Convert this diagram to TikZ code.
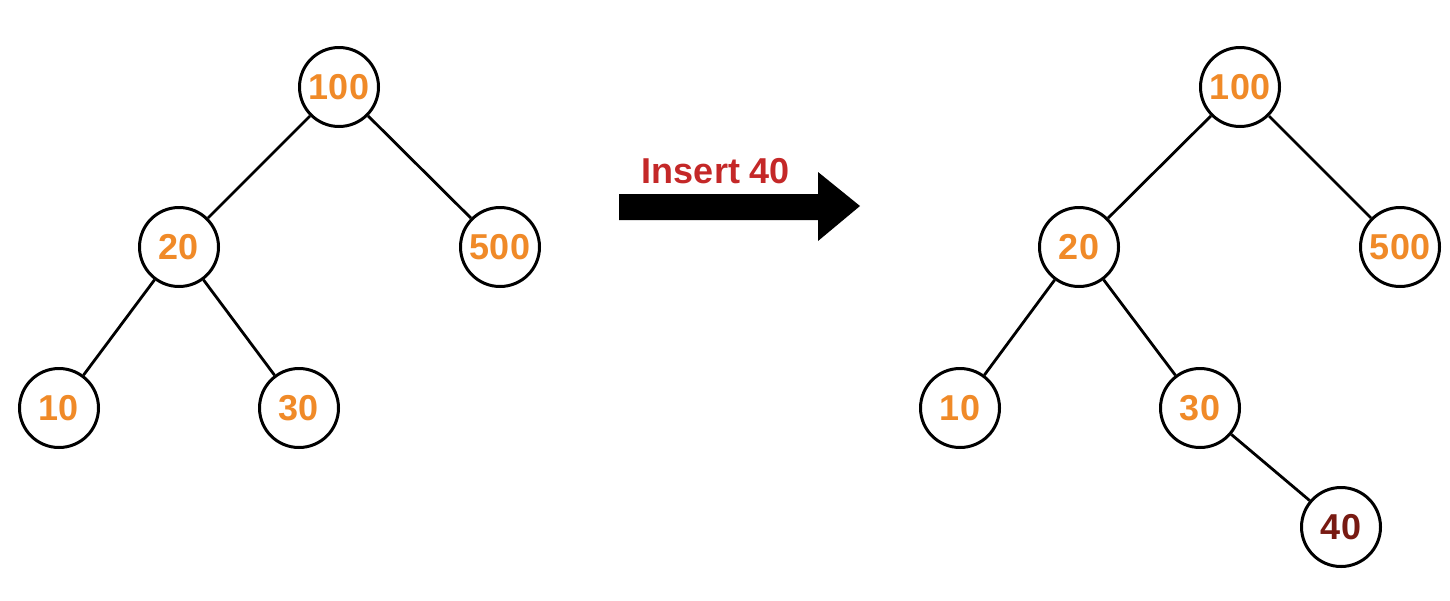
\documentclass[tikz,border=0pt]{standalone}
\usepackage{fontspec}
\setmainfont{Liberation Sans}
\definecolor{nodeorange}{RGB}{240,138,40}
\definecolor{newred}{RGB}{120,26,18}
\definecolor{labelred}{RGB}{196,40,40}
\begin{document}
\begin{tikzpicture}[x=1pt,y=-1pt,
  tnode/.style={circle,draw=black,line width=3pt,fill=white,minimum size=79pt,inner sep=0pt,
    font=\fontsize{36}{40}\selectfont\bfseries,text=nodeorange},
  newnode/.style={tnode,text=newred},
  edge/.style={line width=2.8pt,draw=black}]
\useasboundingbox (0,0) rectangle (1450,600);
% left tree
\node[tnode] (a100) at (339,87) {100};
\node[tnode] (a20) at (179,247) {20};
\node[tnode] (a500) at (500,247) {500};
\node[tnode] (a10) at (59,408) {10};
\node[tnode] (a30) at (299,408) {30};
\draw[edge] (a100) -- (a20);
\draw[edge] (a100) -- (a500);
\draw[edge] (a20) -- (a10);
\draw[edge] (a20) -- (a30);
% right tree
\node[tnode] (b100) at (1240,87) {100};
\node[tnode] (b20) at (1079,247) {20};
\node[tnode] (b500) at (1400,247) {500};
\node[tnode] (b10) at (960,408) {10};
\node[tnode] (b30) at (1200,408) {30};
\node[newnode] (b40) at (1341,527) {40};
\draw[edge] (b100) -- (b20);
\draw[edge] (b100) -- (b500);
\draw[edge] (b20) -- (b10);
\draw[edge] (b20) -- (b30);
\draw[edge] (b30) -- (b40);
% arrow
\fill[black] (619,194) -- (818,194) -- (818,172) -- (860,206) -- (818,241) -- (818,220) -- (619,220) -- cycle;
\node[font=\fontsize{36}{40}\selectfont\bfseries,text=labelred] (lbl) at (716,171) {Insert 40};
\end{tikzpicture}
\end{document}
